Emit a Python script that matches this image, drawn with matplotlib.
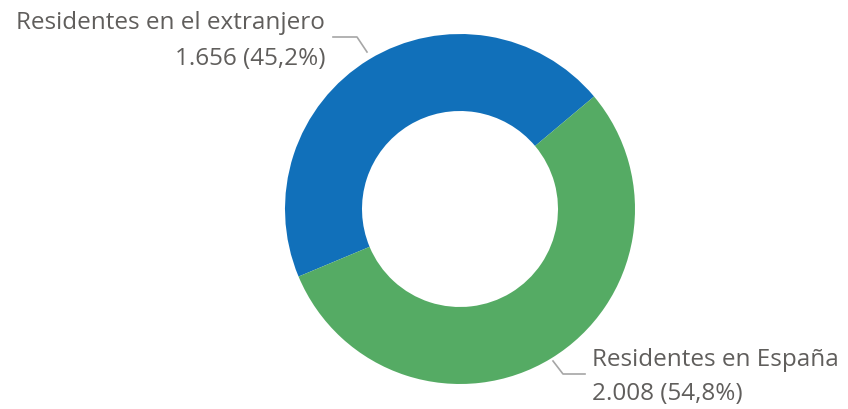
import matplotlib.pyplot as plt

labels = ["Residentes en el extranjero", "Residentes en España"]
values = [1656, 2008]
colors = ["#1170BA", "#55AB64"]

plt.rcParams['font.family'] = ['Open Sans', 'DejaVu Sans']

fig = plt.figure(figsize=(8.48, 4.10), dpi=100)
ax = fig.add_axes([0, 0, 1, 1])

# donut, blue slice starts at ~40 deg and goes counterclockwise
ax.pie(values, colors=colors, startangle=40, counterclock=True,
       center=(460, 200), radius=175, frame=True,
       wedgeprops={'width': 77, 'linewidth': 0})
ax.set_xlim(0, 848)
ax.set_ylim(0, 410)
ax.set_aspect('equal')
ax.axis('off')

total = sum(values)
def fmt(v):
    num = "{:,}".format(v).replace(",", ".")
    pct = "{:.1f}".format(v / total * 100).replace(".", ",")
    return "{} ({}%)".format(num, pct)

txt_color = "#605E5C"
line_color = "#A6A6A6"
fs = 17.5

# leader lines
ax.plot([333, 357, 367], [372, 372, 357], color=line_color, lw=1.2)
ax.plot([553, 563, 585], [48, 35, 35], color=line_color, lw=1.2)

ax.text(325, 387, labels[0], ha='right', va='center', fontsize=fs, color=txt_color)
ax.text(325, 351, fmt(values[0]), ha='right', va='center', fontsize=fs, color=txt_color)
ax.text(592, 50, labels[1], ha='left', va='center', fontsize=fs, color=txt_color)
ax.text(592, 16, fmt(values[1]), ha='left', va='center', fontsize=fs, color=txt_color)

fig.savefig("out.png", dpi=100)
